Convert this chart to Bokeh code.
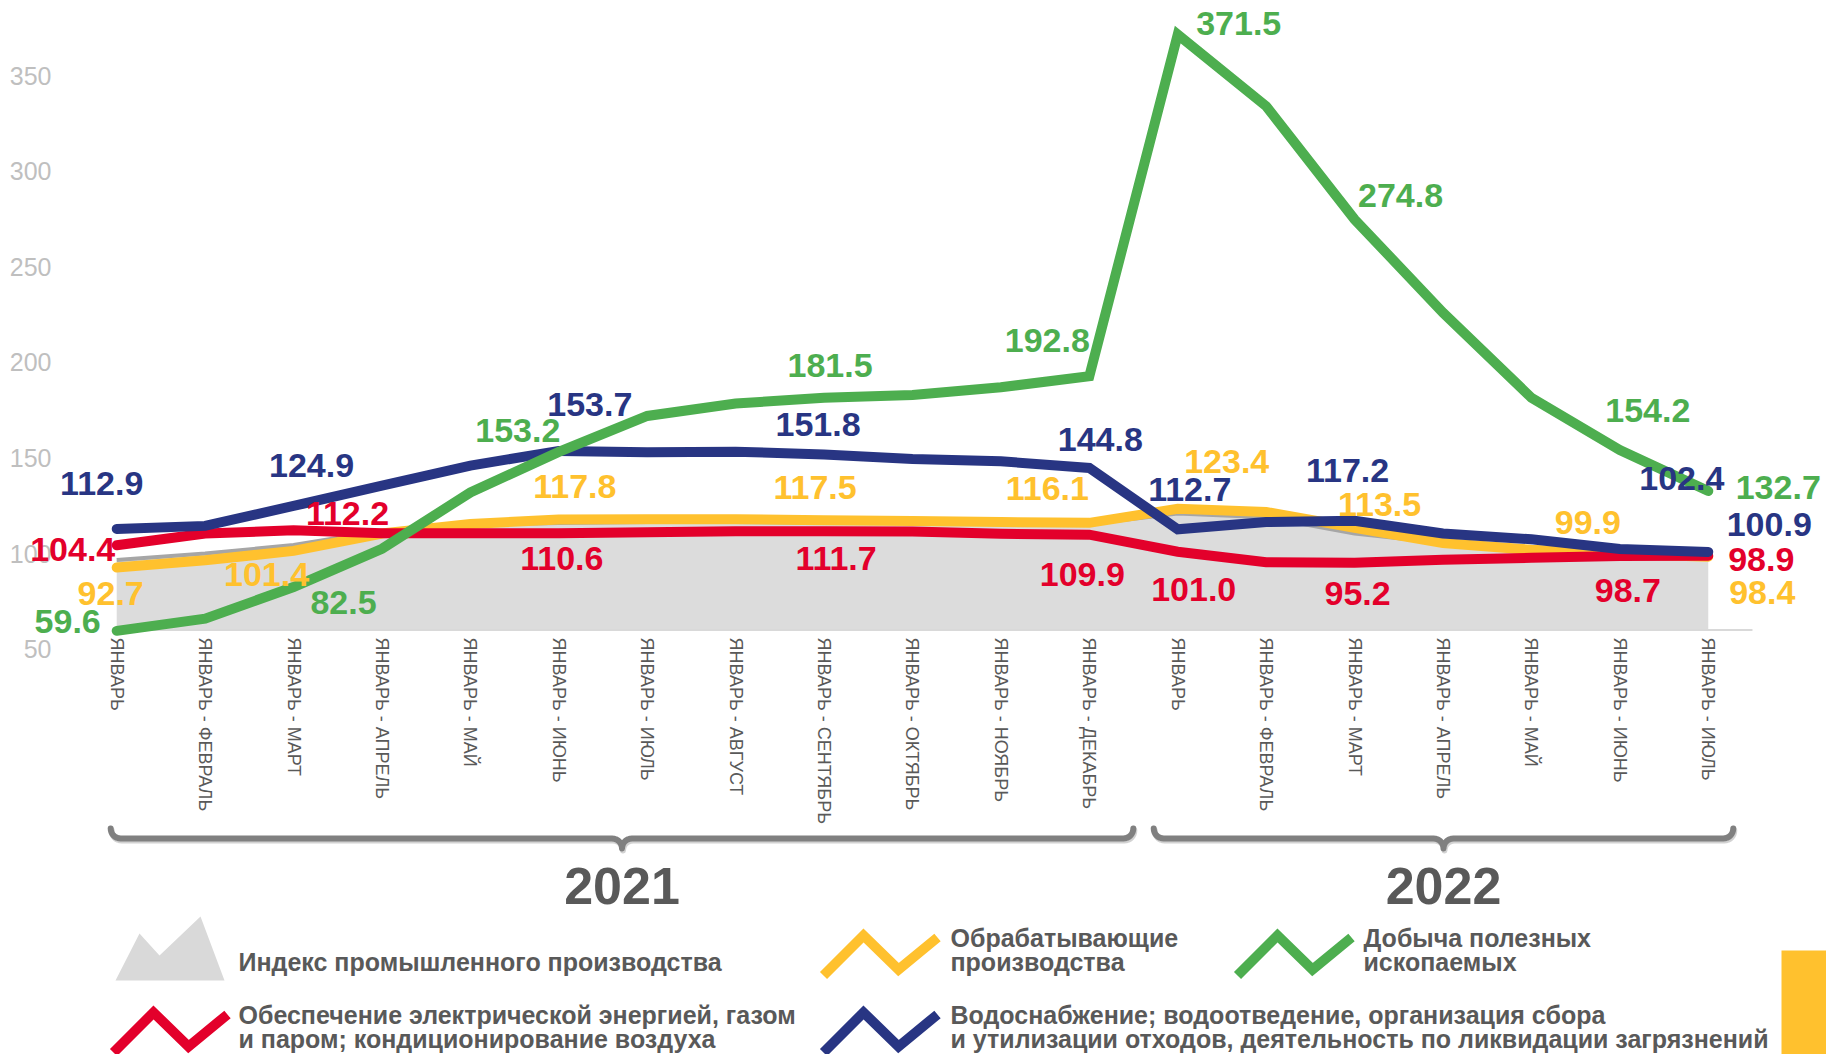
import math
from bokeh.plotting import figure
from bokeh.models import ColumnDataSource, LabelSet, FixedTicker, Range1d
from bokeh.embed import file_html
from bokeh.resources import INLINE
from bokeh.core.properties import value

# ---------------- data ----------------
months_2021 = ["ЯНВАРЬ", "ЯНВАРЬ - ФЕВРАЛЬ", "ЯНВАРЬ - МАРТ", "ЯНВАРЬ - АПРЕЛЬ",
               "ЯНВАРЬ - МАЙ", "ЯНВАРЬ - ИЮНЬ", "ЯНВАРЬ - ИЮЛЬ", "ЯНВАРЬ - АВГУСТ",
               "ЯНВАРЬ - СЕНТЯБРЬ", "ЯНВАРЬ - ОКТЯБРЬ", "ЯНВАРЬ - НОЯБРЬ", "ЯНВАРЬ - ДЕКАБРЬ"]
months_2022 = ["ЯНВАРЬ", "ЯНВАРЬ - ФЕВРАЛЬ", "ЯНВАРЬ - МАРТ", "ЯНВАРЬ - АПРЕЛЬ",
               "ЯНВАРЬ - МАЙ", "ЯНВАРЬ - ИЮНЬ", "ЯНВАРЬ - ИЮЛЬ"]
years = ["2021", "2022"]
categories = months_2021 + months_2022

index_vals = [96.6, 100.0, 104.5, 112.0, 115.0, 116.0, 116.5, 116.5, 116.2, 116.0, 115.7, 115.5,
              121.0, 119.0, 110.5, 105.5, 102.0, 100.0, 99.0]
mfg_vals = [92.7, 96.5, 101.4, 110.5, 115.5, 117.8, 118.0, 118.0, 117.5, 117.0, 116.5, 116.1,
            123.4, 121.8, 113.5, 105.5, 102.0, 99.9, 98.4]
mining_vals = [59.6, 66.0, 82.5, 102.5, 132.0, 153.2, 172.0, 178.5, 181.5, 183.0, 187.0, 192.8,
               371.5, 334.0, 274.8, 226.0, 181.5, 154.2, 132.7]
energy_vals = [104.4, 110.5, 112.2, 110.6, 110.6, 110.6, 111.2, 111.7, 111.7, 111.5, 110.4, 109.9,
               101.0, 95.5, 95.2, 96.8, 97.8, 98.7, 98.9]
water_vals = [112.9, 114.5, 124.9, 135.5, 146.0, 153.7, 153.0, 153.3, 151.8, 149.5, 148.3, 144.8,
              112.7, 116.5, 117.2, 110.5, 107.5, 102.4, 100.9]
y_ticks = [50, 100, 150, 200, 250, 300, 350]
labelled_idx = [0, 2, 5, 8, 11, 12, 14, 17, 18]

legend_index = ["Индекс промышленного производства"]
legend_mfg = ["Обрабатывающие", "производства"]
legend_mining = ["Добыча полезных", "ископаемых"]
legend_energy = ["Обеспечение электрической энергией, газом", "и паром; кондиционирование воздуха"]
legend_water = ["Водоснабжение; водоотведение, организация сбора",
                "и утилизации отходов, деятельность по ликвидации загрязнений"]

# ---------------- styles / layout ----------------
FONT = "Liberation Sans"
C_GREEN = "#4DAE4F"
C_BLUE = "#283583"
C_RED = "#E3002B"
C_YELLOW = "#FFC12E"
C_AREA = "#DCDCDC"
C_AREA_LINE = "#A6A6A6"
C_TEXT = "#595959"

W, H = 1826, 1054
PAGE_L, PAGE_T = 0, 0               # page offset of the figure (template has no body margin)
N = len(categories)
STEP = 88.42                        # px per category
CAT0 = 116.2                        # page x of first category
PXU = 1.912                         # px per index unit
Y100 = 553.1                        # page y of value 100
BASE = 60


def page_x_to_cat(px):
    return (px - CAT0) / STEP


def page_y_to_val(py):
    return 100 - (py - Y100) / PXU


def cat_page_x(i):
    return CAT0 + i * STEP


x_range = Range1d(page_x_to_cat(PAGE_L), page_x_to_cat(PAGE_L + W))
y_range = Range1d(page_y_to_val(PAGE_T + H), page_y_to_val(PAGE_T))

# label offsets (px): (dx right, dy down)
off_green = [(-49, -9), (50, 15), (-41, -21), (6, -32), (-42, -36), (61, -11), (46, -24), (28, -39), (70, -4)]
off_blue = [(-15, -45), (18, -40), (31, -46), (-6, -30), (11, -28), (12, -40), (-7, -50), (62, -71), (61, -27)]
off_red = [(-44, 4), (54, -17), (3, 25), (12, 27), (-7, 40), (16, 38), (3, 31), (8, 34), (53, 4)]
off_yellow = [(-6, 26), (-27, 24), (16, -33), (-9, -33), (-42, -34), (49, -47), (25, -23), (-32, -31), (54, 36)]

p = figure(width=W, height=H, x_range=x_range, y_range=y_range,
           output_backend="svg", toolbar_location=None,
           min_border_left=0, min_border_right=0, min_border_top=0, min_border_bottom=0)
p.extra_x_ranges = {"px": Range1d(PAGE_L, PAGE_L + W)}
p.extra_y_ranges = {"px": Range1d(PAGE_T + H, PAGE_T)}
p.outline_line_color = None
p.grid.visible = False
p.background_fill_color = "white"
p.border_fill_color = "white"

p.yaxis.fixed_location = -0.5
p.yaxis.ticker = FixedTicker(ticks=y_ticks)
p.yaxis.axis_line_color = None
p.yaxis.major_tick_line_color = None
p.yaxis.minor_tick_line_color = None
p.yaxis.major_label_standoff = 15
p.yaxis.major_label_text_font = FONT
p.yaxis.major_label_text_font_size = "25px"
p.yaxis.major_label_text_color = "#BFBFBF"

p.xaxis.fixed_location = page_y_to_val(631)
p.xaxis.ticker = FixedTicker(ticks=list(range(N)))
p.xaxis.major_label_overrides = {i: c for i, c in enumerate(categories)}
p.xaxis.major_label_orientation = "vertical"
p.xaxis.axis_line_color = None
p.xaxis.major_tick_line_color = None
p.xaxis.minor_tick_line_color = None
p.xaxis.major_label_standoff = 0
p.xaxis.major_label_text_font = FONT
p.xaxis.major_label_text_font_size = "18px"
p.xaxis.major_label_text_color = C_TEXT

src = ColumnDataSource(dict(x=list(range(N)), index=index_vals, mfg=mfg_vals,
                            mining=mining_vals, energy=energy_vals, water=water_vals))

p.varea(x="x", y1=BASE, y2="index", source=src, fill_color=C_AREA)
p.line("x", "index", source=src, line_color=C_AREA_LINE, line_width=4)
p.segment(x0=0, y0=BASE, x1=N - 0.5, y1=BASE, line_color="#D9D9D9", line_width=2)

for col, c in [("mfg", C_YELLOW), ("energy", C_RED), ("water", C_BLUE), ("mining", C_GREEN)]:
    p.line("x", col, source=src, line_color=c, line_width=10, line_join="miter", line_cap="round")

for vals, offs, c in [(mfg_vals, off_yellow, C_YELLOW), (energy_vals, off_red, C_RED),
                      (water_vals, off_blue, C_BLUE), (mining_vals, off_green, C_GREEN)]:
    ls = ColumnDataSource(dict(
        x=labelled_idx,
        y=[vals[i] for i in labelled_idx],
        text=[f"{vals[i]:.1f}" for i in labelled_idx],
        dx=[o[0] for o in offs],
        dy=[-o[1] for o in offs]))
    p.add_layout(LabelSet(x="x", y="y", text="text", x_offset="dx", y_offset="dy", source=ls,
                          text_font=value(FONT), text_font_style="bold", text_font_size="34px",
                          text_color=c, text_align="center", text_baseline="middle"))

# ---------------- braces, years, legend (page pixel coordinates) ----------------
PX = dict(x_range_name="px", y_range_name="px")


def brace(xa, xb, ytop, r):
    xm = (xa + xb) / 2
    pts = []
    for k in range(9):
        t = k / 8 * math.pi / 2
        pts.append((xa + r - r * math.cos(t), ytop + r * math.sin(t)))
    for k in range(9):
        t = k / 8 * math.pi / 2
        pts.append((xm - r + r * math.sin(t), ytop + 2 * r - r * math.cos(t)))
    for k in range(9):
        t = k / 8 * math.pi / 2
        pts.append((xm + r - r * math.cos(t), ytop + 2 * r - r * math.sin(t)))
    for k in range(9):
        t = k / 8 * math.pi / 2
        pts.append((xb - r + r * math.sin(t), ytop + r * math.cos(t)))
    return [a for a, b in pts], [b for a, b in pts]


groups = [(0, len(months_2021) - 1), (len(months_2021), N - 1)]
brace_pad = [(-6, 44), (-24, 25)]
for (g0, g1), (pa, pb), yr in zip(groups, brace_pad, years):
    xa, xb = cat_page_x(g0) + pa, cat_page_x(g1) + pb
    bx, by = brace(xa, xb, 828, 10)
    p.line([v + 1 for v in bx], [v + 2 for v in by], line_color="#D2D2D2", line_width=6,
           line_join="round", line_cap="round", **PX)
    p.line(bx, by, line_color="#808080", line_width=6, line_join="round", line_cap="round", **PX)
    p.text(x=[(xa + xb) / 2], y=[885], text=[yr], text_font=value(FONT), text_font_style="bold",
           text_font_size="52px", text_color=C_TEXT, text_align="center", text_baseline="middle", **PX)

# legend icons
p.patch([115, 139, 159, 200, 224], [980, 933, 955, 916, 980], fill_color="#D9D9D9", line_color=None, **PX)
zig = [(0, 40), (40, 0), (75, 34), (114, 2)]
ROW2 = 1012
for x0, y0, c in [(823, 935, C_YELLOW), (1237, 935, C_GREEN), (113, ROW2, C_RED), (823, ROW2, C_BLUE)]:
    p.line([x0 + a for a, b in zig], [y0 + b for a, b in zig], line_color=c, line_width=10,
           line_join="miter", line_cap="butt", **PX)

legend_texts = [(238, [961], legend_index), (950, [937, 961], legend_mfg),
                (1363, [937, 961], legend_mining), (238, [1014, 1038], legend_energy),
                (950, [1014, 1038], legend_water)]
for x0, ys, lines in legend_texts:
    p.text(x=[x0] * len(lines), y=ys, text=lines, text_font=value(FONT), text_font_style="bold",
           text_font_size="25px", text_color=C_TEXT, text_align="left", text_baseline="alphabetic", **PX)

p.quad(left=[1781], right=[1830], top=[950], bottom=[1060], fill_color=C_YELLOW, line_color=None, **PX)

open("out.html", "w").write(file_html(p, INLINE))
